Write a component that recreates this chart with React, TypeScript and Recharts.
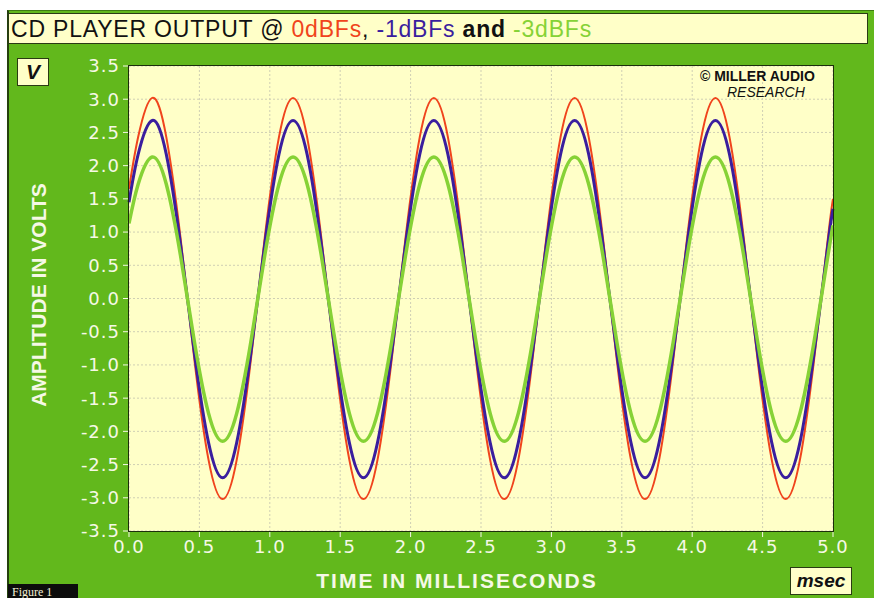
import { CartesianGrid, Line, LineChart, XAxis, YAxis } from "recharts";

const times = [
  0, 0.065, 0.165, 0.265, 0.365, 0.465, 0.565, 0.665, 0.765, 0.865, 0.965,
  1.065, 1.165, 1.265, 1.365, 1.465, 1.565, 1.665, 1.765, 1.865, 1.965,
  2.065, 2.165, 2.265, 2.365, 2.465, 2.565, 2.665, 2.765, 2.865, 2.965,
  3.065, 3.165, 3.265, 3.365, 3.465, 3.565, 3.665, 3.765, 3.865, 3.965,
  4.065, 4.165, 4.265, 4.365, 4.465, 4.565, 4.665, 4.765, 4.865, 4.965, 5.0,
];

const zeroDbfs = [
  1.65, 2.43, 3.02, 2.43, 0.93, -0.93, -2.43, -3.02, -2.43, -0.93, 0.93,
  2.43, 3.02, 2.43, 0.93, -0.93, -2.43, -3.02, -2.43, -0.93, 0.93,
  2.43, 3.02, 2.43, 0.93, -0.93, -2.43, -3.02, -2.43, -0.93, 0.93,
  2.43, 3.02, 2.43, 0.93, -0.93, -2.43, -3.02, -2.43, -0.93, 0.93,
  2.43, 3.02, 2.43, 0.93, -0.93, -2.43, -3.02, -2.43, -0.93, 0.93, 1.5,
];

const minusOneDbfs = [
  1.45, 2.17, 2.68, 2.17, 0.83, -0.83, -2.17, -2.7, -2.17, -0.83, 0.83,
  2.17, 2.68, 2.17, 0.83, -0.83, -2.17, -2.7, -2.17, -0.83, 0.83,
  2.17, 2.68, 2.17, 0.83, -0.83, -2.17, -2.7, -2.17, -0.83, 0.83,
  2.17, 2.68, 2.17, 0.83, -0.83, -2.17, -2.7, -2.17, -0.83, 0.83,
  2.17, 2.68, 2.17, 0.83, -0.83, -2.17, -2.7, -2.17, -0.83, 0.83, 1.35,
];

const minusThreeDbfs = [
  1.13, 1.72, 2.13, 1.72, 0.66, -0.66, -1.73, -2.15, -1.73, -0.66, 0.66,
  1.72, 2.13, 1.72, 0.66, -0.66, -1.73, -2.15, -1.73, -0.66, 0.66,
  1.72, 2.13, 1.72, 0.66, -0.66, -1.73, -2.15, -1.73, -0.66, 0.66,
  1.72, 2.13, 1.72, 0.66, -0.66, -1.73, -2.15, -1.73, -0.66, 0.66,
  1.72, 2.13, 1.72, 0.66, -0.66, -1.73, -2.15, -1.73, -0.66, 0.66, 1.1,
];

const xTicks = [0, 0.5, 1, 1.5, 2, 2.5, 3, 3.5, 4, 4.5, 5];
const yTicks = [-3.5, -3, -2.5, -2, -1.5, -1, -0.5, 0, 0.5, 1, 1.5, 2, 2.5, 3, 3.5];

const rows = times.map((t, i) => ({
  t,
  a: zeroDbfs[i],
  b: minusOneDbfs[i],
  c: minusThreeDbfs[i],
}));

const GREEN = "#62b81c";
const PAPER = "#ffffc8";
const INK = "#f6f8e6";
const RED = "#f0441c";
const BLUE = "#3a1e9e";
const LIME = "#86d236";
const FONT = "'Liberation Sans', Arial, sans-serif";
const WIDE = "'DejaVu Sans', sans-serif";

export default function App() {
  const tick = { fill: INK, fontSize: 18, fontFamily: WIDE, letterSpacing: 1 };
  return (
    <div
      style={{
        position: "absolute",
        left: 0,
        top: 0,
        width: 874,
        height: 598,
        background: "#ffffff",
        overflow: "hidden",
        fontFamily: FONT,
      }}
    >
      <div
        style={{
          position: "absolute",
          left: 7,
          top: 10,
          width: 867,
          height: 588,
          background: GREEN,
          borderLeft: "2px solid #24400c",
          borderTop: "1px solid #3e7a12",
        }}
      />
      <div
        style={{
          position: "absolute",
          left: 8,
          top: 13,
          width: 856,
          height: 29,
          background: PAPER,
          border: "1px solid #2a3a14",
          fontSize: 23,
          lineHeight: "30px",
          paddingLeft: 2,
          letterSpacing: 0.8,
          color: "#111",
          whiteSpace: "nowrap",
        }}
      >
        CD PLAYER OUTPUT @ <span style={{ color: RED }}>0dBFs</span>,{" "}
        <span style={{ color: BLUE }}>-1dBFs</span>{" "}
        <span style={{ fontWeight: "bold" }}>and</span>{" "}
        <span style={{ color: LIME }}>-3dBFs</span>
      </div>

      <div style={{ position: "absolute", left: 0, top: 0 }}>
        <LineChart
          width={874}
          height={598}
          data={rows}
          margin={{ top: 66, right: 41, bottom: 37, left: 69 }}
        >
          <CartesianGrid fill={PAPER} stroke="#cfcfb4" strokeDasharray="2 2" />
          <XAxis
            dataKey="t"
            type="number"
            domain={[0, 5]}
            ticks={xTicks}
            interval={0}
            tickFormatter={(v: number) => v.toFixed(1)}
            tick={tick}
            tickLine={{ stroke: INK }}
            tickSize={6}
            tickMargin={3}
            axisLine={false}
            height={30}
          />
          <YAxis
            type="number"
            domain={[-3.5, 3.5]}
            ticks={yTicks}
            interval={0}
            tickFormatter={(v: number) => v.toFixed(1)}
            tick={tick}
            tickLine={{ stroke: INK }}
            tickSize={6}
            tickMargin={3}
            axisLine={false}
            width={60}
          />
          <Line dataKey="a" type="natural" stroke={RED} strokeWidth={2} dot={false} isAnimationActive={false} />
          <Line dataKey="b" type="natural" stroke={BLUE} strokeWidth={3} dot={false} isAnimationActive={false} />
          <Line dataKey="c" type="natural" stroke={LIME} strokeWidth={3.5} dot={false} isAnimationActive={false} />
        </LineChart>
      </div>

      {/* plot frame */}
      <div
        style={{
          position: "absolute",
          left: 128,
          top: 65,
          width: 704,
          height: 465,
          border: "1.5px solid #1c2e0a",
          pointerEvents: "none",
        }}
      />

      <div
        style={{
          position: "absolute",
          left: 17,
          top: 58,
          width: 30,
          height: 26,
          background: PAPER,
          border: "1px solid #2a3a14",
          fontSize: 21,
          fontWeight: "bold",
          fontStyle: "italic",
          lineHeight: "26px",
          textAlign: "center",
          color: "#111",
        }}
      >
        V
      </div>

      <div
        style={{
          position: "absolute",
          left: 39,
          top: 295,
          transform: "translate(-50%, -50%) rotate(-90deg)",
          color: INK,
          fontSize: 21,
          fontWeight: "bold",
          whiteSpace: "nowrap",
        }}
      >
        AMPLITUDE IN VOLTS
      </div>

      <div
        style={{
          position: "absolute",
          left: 457,
          top: 581,
          transform: "translate(-50%, -50%)",
          color: INK,
          fontSize: 21,
          fontWeight: "bold",
          letterSpacing: 2,
          whiteSpace: "nowrap",
        }}
      >
        TIME IN MILLISECONDS
      </div>

      <div
        style={{
          position: "absolute",
          left: 790,
          top: 567,
          width: 60,
          height: 26,
          background: PAPER,
          border: "1px solid #2a3a14",
          fontSize: 19,
          fontWeight: "bold",
          fontStyle: "italic",
          lineHeight: "26px",
          textAlign: "center",
          color: "#111",
        }}
      >
        msec
      </div>

      <div
        style={{
          position: "absolute",
          left: 700,
          top: 68,
          fontSize: 14,
          fontWeight: "bold",
          color: "#111",
          whiteSpace: "nowrap",
        }}
      >
        © MILLER AUDIO
      </div>
      <div
        style={{
          position: "absolute",
          left: 727,
          top: 84,
          fontSize: 14,
          fontStyle: "italic",
          color: "#111",
          whiteSpace: "nowrap",
        }}
      >
        RESEARCH
      </div>

      <div
        style={{
          position: "absolute",
          left: 8,
          top: 584,
          width: 66,
          height: 14,
          background: "#0c0c0c",
          color: "#f4f0d8",
          fontFamily: "'Liberation Serif', serif",
          fontSize: 12,
          lineHeight: "16px",
          paddingLeft: 4,
        }}
      >
        Figure 1
      </div>
    </div>
  );
}
